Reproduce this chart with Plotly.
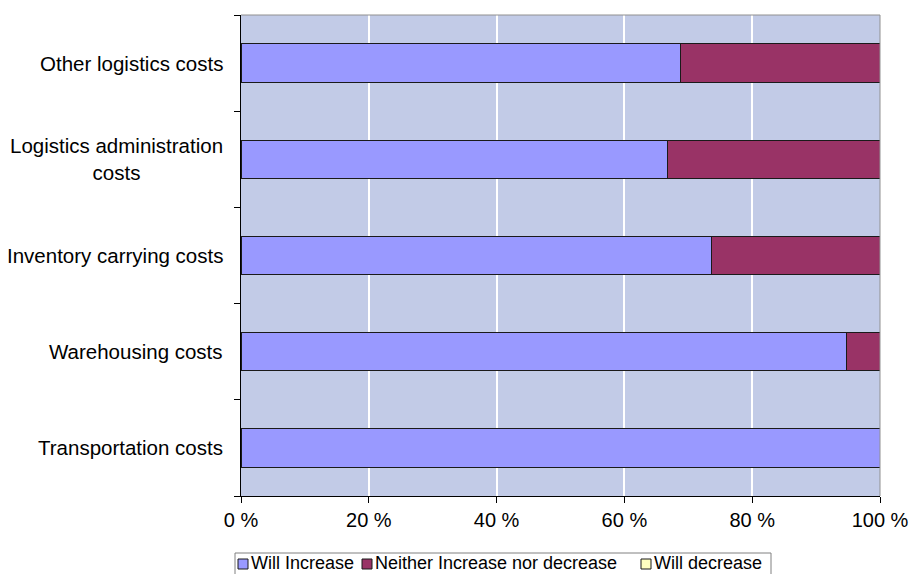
import plotly.graph_objects as go

categories = ["Transportation costs", "Warehousing costs", "Inventory carrying costs",
              "Logistics administration costs", "Other logistics costs"]
label_text = ["Transportation costs", "Warehousing costs", "Inventory carrying costs",
              "Logistics administration<br>costs", "Other logistics costs"]
series_names = ["Will Increase", "Neither Increase nor decrease", "Will decrease"]
will_increase = [100.0, 94.7, 73.7, 66.7, 68.8]
neither = [0.0, 5.3, 26.3, 33.3, 31.2]
will_decrease = [0.0, 0.0, 0.0, 0.0, 0.0]
x_ticks = [0, 20, 40, 60, 80, 100]
x_tick_labels = ["0 %", "20 %", "40 %", "60 %", "80 %", "100 %"]

colors = ["#9999FF", "#993366", "#FFFFC0"]
FONT = "Liberation Sans, Arial, sans-serif"

W, H = 912, 574
ML, MR, MT, MB = 241, 32, 15, 78
PW, PH = W - ML - MR, H - MT - MB


def px(x):
    return (x - ML) / PW


def py(y):
    return (H - MB - y) / PH


fig = go.Figure()
for name, vals, color in zip(series_names, [will_increase, neither, will_decrease], colors):
    fig.add_trace(go.Bar(y=categories, x=vals, name=name, orientation="h",
                         marker=dict(color=color, line=dict(color="#1a1a1a", width=1)),
                         width=0.4, showlegend=False))

for cat, txt in zip(categories, label_text):
    fig.add_annotation(x=0, xref="paper", xanchor="right", xshift=-16,
                       y=cat, yref="y", yanchor="middle", text=txt, showarrow=False,
                       align="center", font=dict(family=FONT, size=20.5, color="#000"))

# manual legend (Excel-style compact legend box)
shapes = [
    dict(type="line", xref="paper", yref="paper", x0=0, x1=1, y0=1, y1=1,
         line=dict(color="#909090", width=1)),
    dict(type="line", xref="paper", yref="paper", x0=1, x1=1, y0=0, y1=1,
         line=dict(color="#909090", width=1)),
    dict(type="rect", xref="paper", yref="paper", x0=px(235), x1=px(771),
         y0=py(580), y1=py(553), line=dict(color="#808080", width=1),
         fillcolor="white", layer="below"),
]
sq_x = [238, 362, 641]
legend_y = 563
for sx, name, color in zip(sq_x, series_names, colors):
    shapes.append(dict(type="rect", xref="paper", yref="paper",
                       x0=px(sx), x1=px(sx + 10), y0=py(legend_y + 6), y1=py(legend_y - 4),
                       fillcolor=color, line=dict(color="#1a1a1a", width=1)))
    fig.add_annotation(x=px(sx + 12), xref="paper", xanchor="left",
                       y=py(legend_y), yref="paper", yanchor="middle",
                       text=name, showarrow=False, borderpad=0,
                       font=dict(family=FONT, size=18, color="#000"))

fig.update_layout(
    width=W, height=H,
    margin=dict(l=ML, r=MR, t=MT, b=MB, autoexpand=False),
    barmode="stack",
    paper_bgcolor="white",
    plot_bgcolor="#C2CBE7",
    font=dict(family=FONT, size=20, color="#000"),
    showlegend=False,
    xaxis=dict(range=[0, 100], tickvals=x_ticks, ticktext=x_tick_labels,
               showgrid=True, gridcolor="white", gridwidth=2,
               ticks="outside", ticklen=6, tickcolor="#000",
               tickfont=dict(family=FONT, size=20),
               showline=True, linecolor="#000", linewidth=1,
               zeroline=False, fixedrange=True),
    yaxis=dict(categoryorder="array", categoryarray=categories,
               showticklabels=False, ticks="outside", ticklen=6, tickcolor="#000",
               tickson="boundaries", showgrid=False,
               showline=True, linecolor="#000", linewidth=1, fixedrange=True),
    shapes=shapes,
)

fig.write_html("out.html")
